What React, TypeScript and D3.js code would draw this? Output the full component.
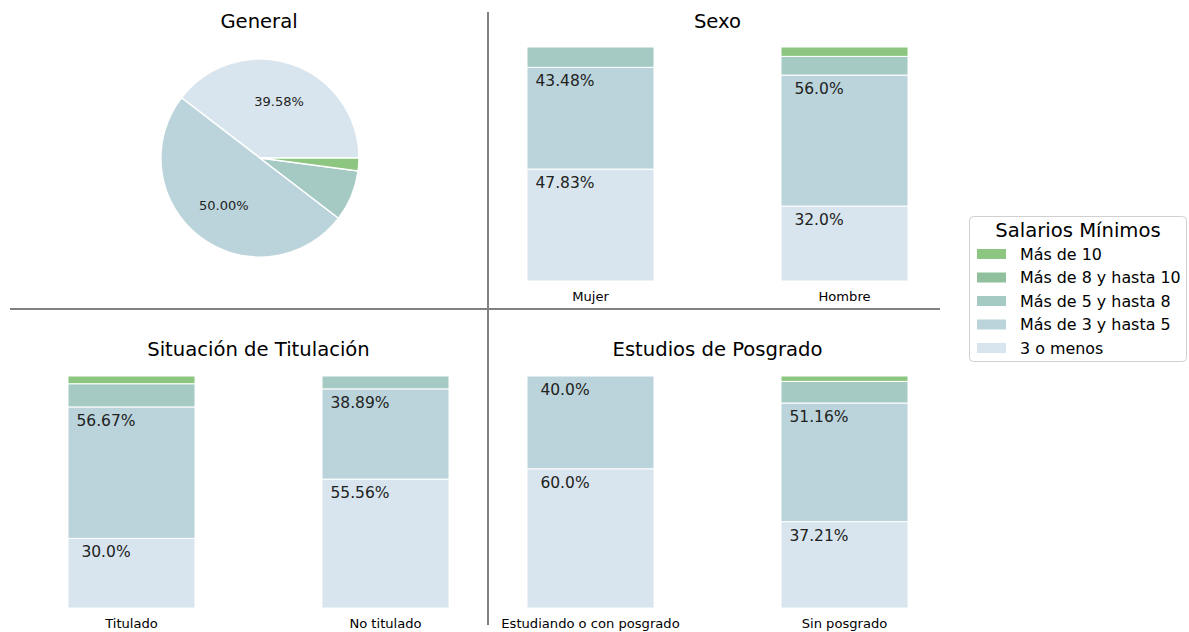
import React from "react";
import * as d3 from "d3";

const levels = ["3 o menos", "Más de 3 y hasta 5", "Más de 5 y hasta 8", "Más de 8 y hasta 10", "Más de 10"];
const colors = ["#d8e5ee", "#bbd4db", "#a5c9c3", "#8fbf9c", "#8cc680"];

const generalValues = [39.58, 50.0, 8.33, 0, 2.08];

const sexoCats = ["Mujer", "Hombre"];
const sexoValues = [
  [47.83, 43.48, 8.69, 0, 0],
  [32.0, 56.0, 8.0, 0, 4.0],
];

const titCats = ["Titulado", "No titulado"];
const titValues = [
  [30.0, 56.67, 10.0, 0, 3.33],
  [55.56, 38.89, 5.55, 0, 0],
];

const posCats = ["Estudiando o con posgrado", "Sin posgrado"];
const posValues = [
  [60.0, 40.0, 0, 0, 0],
  [37.21, 51.16, 9.3, 0, 2.33],
];

const FONT = "DejaVu Sans, sans-serif";

function BarPanel({ cats, values, x0, x1, yTop, yBottom, title, titleY }: any) {
  const x = d3.scaleBand<string>().domain(cats).range([x0, x1]).paddingInner(0.5).paddingOuter(0.25);
  const y = d3.scaleLinear().domain([0, 100]).range([yBottom, yTop]);
  const stack = d3.stack<number[]>().keys(levels.map((_, i) => String(i))).value((d, k) => d[+k]);
  const series = stack(values);
  const cx = (x0 + x1) / 2;
  return (
    <g>
      <text x={cx} y={titleY} textAnchor="middle" fontSize={19.6} fontFamily={FONT} fill="#000">{title}</text>
      {series.map((s, li) =>
        s.map((d, ci) => {
          const v = values[ci][li];
          if (v <= 0) return null;
          const bx = x(cats[ci])!;
          const top = y(d[1]);
          const bot = y(d[0]);
          return (
            <g key={`${li}-${ci}`}>
              <rect x={bx} y={top} width={x.bandwidth()} height={bot - top} fill={colors[li]} stroke="#fff" strokeWidth={1} />
              {v > 10.5 && (
                <text x={bx + 38} y={top + 14} dominantBaseline="central" textAnchor="middle" fontSize={15.5} fontFamily={FONT} fill="#222">
                  {`${Math.round(v * 100) / 100}`.includes(".") ? `${Math.round(v * 100) / 100}%` : `${v.toFixed(1)}%`}
                </text>
              )}
            </g>
          );
        })
      )}
      {cats.map((c: string) => (
        <text key={c} x={x(c)! + x.bandwidth() / 2} y={yBottom + 15} dominantBaseline="central" textAnchor="middle" fontSize={13.1} fontFamily={FONT} fill="#000">{c}</text>
      ))}
    </g>
  );
}

export default function App() {
  const pieCx = 260, pieCy = 158, pieR = 99;
  const pieData = generalValues.map((v, i) => ({ v, i }));
  const pie = d3.pie<any>().value((d) => d.v).sort(null).startAngle(Math.PI / 2).endAngle(Math.PI / 2 - 2 * Math.PI);
  const arcs = pie(pieData);
  const arc = d3.arc<any>().innerRadius(0).outerRadius(pieR);
  const labelArc = d3.arc<any>().innerRadius(pieR * 0.6).outerRadius(pieR * 0.6);

  return (
    <svg width={1189} height={632} style={{ position: "absolute", left: 0, top: 0 }}>
      <rect width={1189} height={632} fill="#fff" />
      <text x={259} y={21} textAnchor="middle" dominantBaseline="central" fontSize={19.6} fontFamily={FONT}>General</text>
      <g transform={`translate(${pieCx},${pieCy})`}>
        {arcs.map((a, k) =>
          a.data.v > 0 ? (
            <path key={k} d={arc(a)!} fill={colors[a.data.i]} stroke="#fff" strokeWidth={1.5} />
          ) : null
        )}
        {arcs.map((a, k) => {
          if (a.data.v < 10) return null;
          const [lx, ly] = labelArc.centroid(a);
          return (
            <text key={"l" + k} x={lx} y={ly} textAnchor="middle" dominantBaseline="central" fontSize={13} fontFamily={FONT} fill="#222">
              {a.data.v.toFixed(2)}%
            </text>
          );
        })}
      </g>

      <BarPanel cats={sexoCats} values={sexoValues} x0={463.5} x1={971.5} yTop={47} yBottom={281} title="Sexo" titleY={28} />
      <BarPanel cats={titCats} values={titValues} x0={4.5} x1={512.5} yTop={376} yBottom={608} title="Situación de Titulación" titleY={356} />
      <BarPanel cats={posCats} values={posValues} x0={463.5} x1={971.5} yTop={376} yBottom={608} title="Estudios de Posgrado" titleY={356} />

      <line x1={10} x2={940} y1={309} y2={309} stroke="#808080" strokeWidth={2} />
      <line x1={488} x2={488} y1={12} y2={625} stroke="#808080" strokeWidth={2} />

      <g>
        <rect x={969.5} y={216.5} width={217} height={145} rx={4} fill="#fff" stroke="#d0d0d0" strokeWidth={1} />
        <text x={1078} y={230} textAnchor="middle" dominantBaseline="central" fontSize={19.6} fontFamily={FONT}>Salarios Mínimos</text>
        {levels.slice().reverse().map((l, k) => {
          const ci = levels.length - 1 - k;
          const yy = 254 + k * 23.5;
          return (
            <g key={l}>
              <rect x={977} y={yy - 5} width={29} height={10} fill={colors[ci]} />
              <text x={1020} y={yy} dominantBaseline="central" fontSize={15.9} fontFamily={FONT}>{l}</text>
            </g>
          );
        })}
      </g>
    </svg>
  );
}
